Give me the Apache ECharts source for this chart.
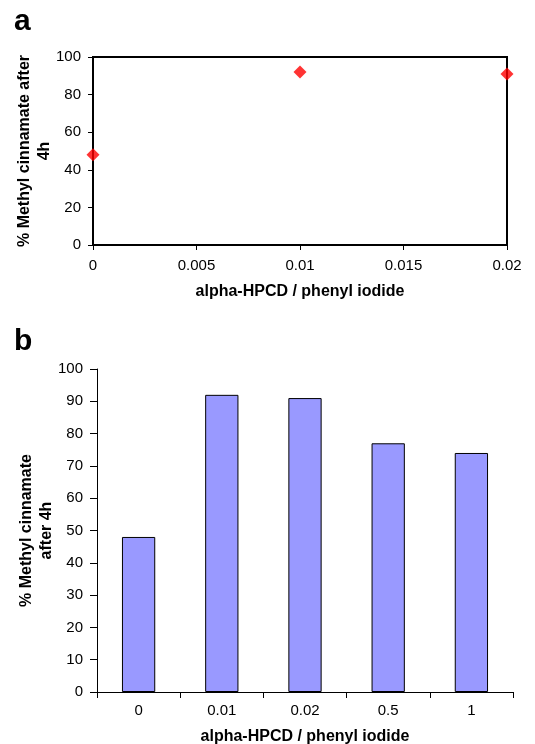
<!DOCTYPE html>
<html>
<head>
<meta charset="utf-8">
<script src="https://cdn.jsdelivr.net/npm/echarts@6/dist/echarts.min.js"></script>
<style>html,body{margin:0;padding:0;background:#fff}#c{width:535px;height:744px}</style>
</head>
<body>
<div id="c"></div>
<script>
// Panel a: scatter
const ratioA = [0, 0.01, 0.02];
const percentA = [48, 92, 91];
// Panel b: bars
const categoriesB = ['0', '0.01', '0.02', '0.5', '1'];
const percentB = [48, 92, 91, 77, 74];
const xTitle = 'alpha-HPCD / phenyl iodide';
const yTitleA = '% Methyl cinnamate after\n4h';
const yTitleB = '% Methyl cinnamate\nafter 4h';

const font = 'Liberation Sans, Arial, sans-serif';
const chart = echarts.init(document.getElementById('c'), null, {renderer: 'canvas'});
const labelStyle = {color: '#000', fontSize: 15, fontFamily: font};
const nameStyle = {color: '#000', fontSize: 16, fontWeight: 'bold', fontFamily: font};

chart.setOption({
  animation: false,
  backgroundColor: '#fff',
  title: [
    {text: 'a', left: 9, top: 2, textStyle: {fontSize: 30, fontWeight: 'bold', fontFamily: font, color: '#000'}},
    {text: 'b', left: 9, top: 322, textStyle: {fontSize: 30, fontWeight: 'bold', fontFamily: font, color: '#000'}}
  ],
  grid: [
    {left: 93, top: 57, width: 414, height: 188, show: true, borderColor: '#000', borderWidth: 2, backgroundColor: 'transparent', outerBoundsMode: 'none', containLabel: false},
    {left: 97, top: 369, width: 416, height: 323, outerBoundsMode: 'none', containLabel: false}
  ],
  xAxis: [
    {
      gridIndex: 0, type: 'value', min: 0, max: 0.02, interval: 0.005,
      name: xTitle, nameLocation: 'middle', nameGap: 39, nameMoveOverlap: false, nameTextStyle: nameStyle,
      axisLine: {show: true, lineStyle: {color: '#000', width: 2}},
      axisTick: {show: true, length: 5, lineStyle: {color: '#000', width: 1}},
      axisLabel: Object.assign({margin: 13, formatter: v => String(v)}, labelStyle),
      splitLine: {show: false}
    },
    {
      gridIndex: 1, type: 'category', data: categoriesB,
      name: xTitle, nameLocation: 'middle', nameGap: 37, nameMoveOverlap: false, nameTextStyle: nameStyle,
      axisLine: {show: true, lineStyle: {color: '#000', width: 1}},
      axisTick: {show: true, length: 6, alignWithLabel: false, lineStyle: {color: '#000', width: 1}},
      axisLabel: Object.assign({margin: 11}, labelStyle),
      splitLine: {show: false}
    }
  ],
  yAxis: [
    {
      gridIndex: 0, type: 'value', min: 0, max: 100, interval: 20,
      name: yTitleA, nameLocation: 'middle', nameGap: 38, nameMoveOverlap: false, nameRotate: 90, nameTextStyle: Object.assign({lineHeight: 20}, nameStyle),
      axisLine: {show: true, lineStyle: {color: '#000', width: 2}},
      axisTick: {show: true, length: 5, lineStyle: {color: '#000', width: 1}},
      axisLabel: Object.assign({margin: 12}, labelStyle),
      splitLine: {show: false}
    },
    {
      gridIndex: 1, type: 'value', min: 0, max: 100, interval: 10,
      name: yTitleB, nameLocation: 'middle', nameGap: 40, nameMoveOverlap: false, nameRotate: 90, nameTextStyle: Object.assign({lineHeight: 20}, nameStyle),
      axisLine: {show: true, lineStyle: {color: '#000', width: 1}},
      axisTick: {show: true, length: 7, lineStyle: {color: '#000', width: 1}},
      axisLabel: Object.assign({margin: 14}, labelStyle),
      splitLine: {show: false}
    }
  ],
  series: [
    {
      type: 'scatter', xAxisIndex: 0, yAxisIndex: 0,
      data: ratioA.map((x, i) => [x, percentA[i]]),
      symbol: 'diamond', symbolSize: 13,
      itemStyle: {color: '#FF0000'},
      clip: false
    },
    {
      type: 'bar', xAxisIndex: 1, yAxisIndex: 1,
      data: percentB, barWidth: '40%',
      itemStyle: {color: '#9999FF', borderColor: '#000', borderWidth: 1}
    }
  ]
});
</script>
</body>
</html>
